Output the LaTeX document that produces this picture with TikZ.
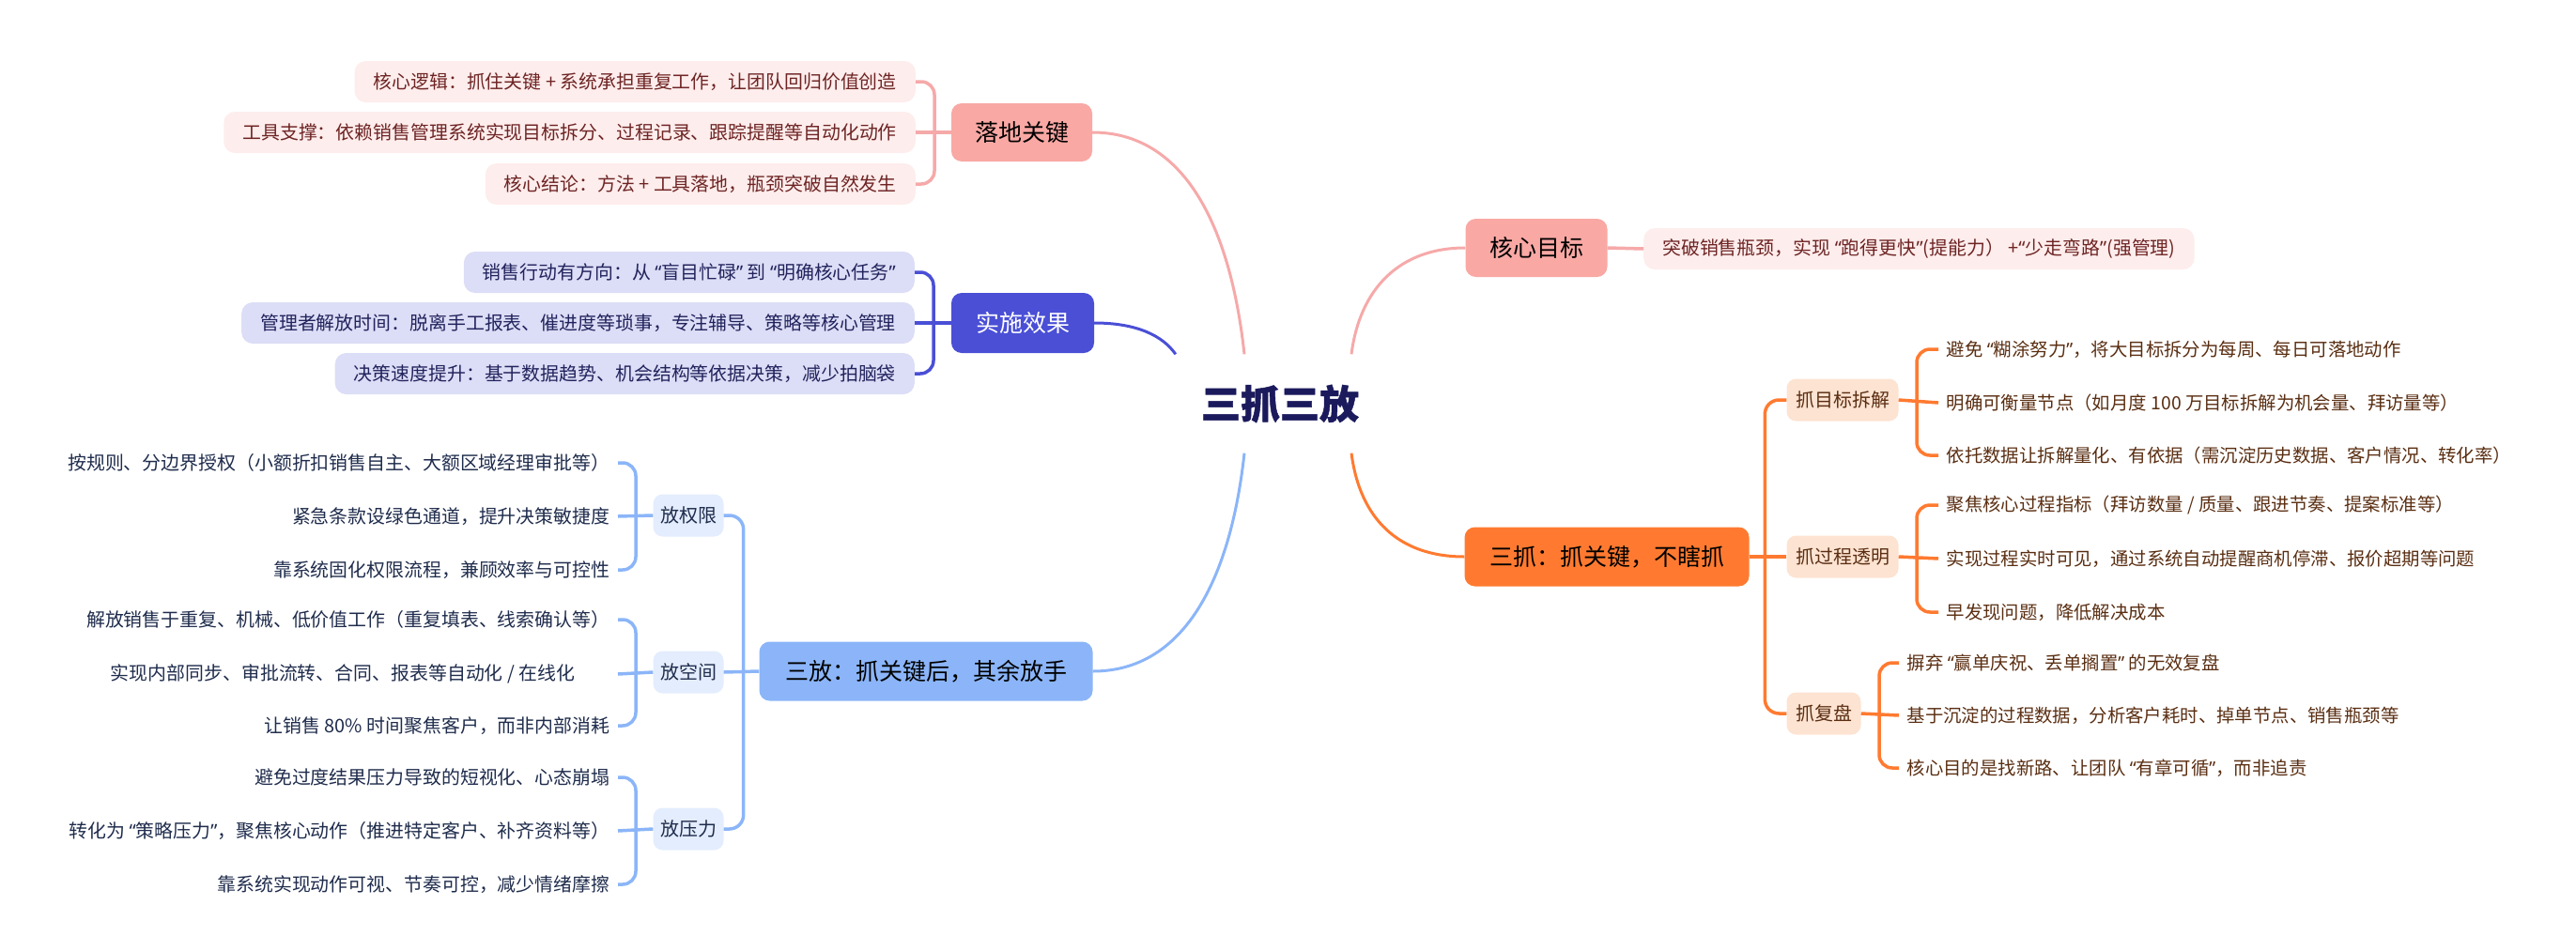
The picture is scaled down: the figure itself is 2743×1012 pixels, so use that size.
\documentclass[tikz,border=0pt]{standalone}
\usepackage{fontspec}
\setmainfont{Noto Sans CJK SC}
\newfontfamily\qfont{Noto Sans}
\newfontfamily\rootfont[BoldFeatures={FakeBold=1.2}]{Noto Sans CJK SC}
\usetikzlibrary{calc}
\definecolor{pinkM}{HTML}{F9A8A4}
\definecolor{pinkL}{HTML}{FDEDEC}
\definecolor{pinkT}{HTML}{6E2424}
\definecolor{pinkLine}{HTML}{F6A9A9}
\definecolor{navyM}{HTML}{4A4FD6}
\definecolor{lavL}{HTML}{DCDDF6}
\definecolor{lavT}{HTML}{22235C}
\definecolor{orM}{HTML}{FF7A30}
\definecolor{orS}{HTML}{FDE3D2}
\definecolor{orT}{HTML}{5A2E12}
\definecolor{blM}{HTML}{8BB5F8}
\definecolor{blS}{HTML}{E4EDFD}
\definecolor{blT}{HTML}{1F2C4C}
\definecolor{rootT}{HTML}{1B1A5C}
\newcommand\myqo{{\qfont “}}
\newcommand\myqc{{\qfont ”}}
\tikzset{
  mainbox/.style={rounded corners=11, minimum height=62, inner sep=0pt, text=black,
    font=\fontsize{25}{30}\selectfont},
  subbox/.style={rounded corners=10, minimum height=45, inner sep=0pt,
    font=\fontsize{20}{24}\selectfont},
  fillleaf/.style={rounded corners=12, minimum height=44, inner xsep=20pt, inner ysep=0pt,
    font=\fontsize{19.9}{24}\selectfont},
  textleaf/.style={inner xsep=8.5pt, inner ysep=4pt, font=\fontsize{19.9}{24}\selectfont},
  orleaf/.style={textleaf, text=orT, font=\fontsize{19.4}{24}\selectfont},
  pinklink/.style={draw=pinkLine, line width=3.5pt},
  navylink/.style={draw=navyM, line width=3.5pt},
  orlink/.style={draw=orM, line width=3.5pt},
  bllink/.style={draw=blM, line width=3.5pt},
  curvelink/.style={line width=3pt}
}
\begin{document}
\begin{tikzpicture}[x=1pt,y=-1pt]
\useasboundingbox (0,0) rectangle (2743,1012);

% root
\node[minimum width=222, minimum height=105, inner sep=0pt, text=rootT,
  font=\fontsize{42}{48}\rootfont\bfseries] (root) at (1363,430) {三抓三放};

% 落地关键
\node[mainbox, fill=pinkM, minimum width=150] (ldgj) at (1088,141) {落地关键};
\node[fillleaf, fill=pinkL, text=pinkT, anchor=east] (ld1) at (975,87) {核心逻辑：抓住关键 + 系统承担重复工作，让团队回归价值创造};
\node[fillleaf, fill=pinkL, text=pinkT, anchor=east] (ld2) at (975,141) {工具支撑：依赖销售管理系统实现目标拆分、过程记录、跟踪提醒等自动化动作};
\node[fillleaf, fill=pinkL, text=pinkT, anchor=east] (ld3) at (975,196) {核心结论：方法 + 工具落地，瓶颈突破自然发生};

% 核心目标
\node[mainbox, fill=pinkM, minimum width=151] (hxmb) at (1636,264) {核心目标};
\node[fillleaf, fill=pinkL, text=pinkT, anchor=west] (hx1) at (1750,265) {突破销售瓶颈，实现 \myqo 跑得更快\myqc(提能力） +\myqo 少走弯路\myqc(强管理)};

% 实施效果
\node[mainbox, fill=navyM, text=white, minimum width=152, minimum height=64] (ssxg) at (1089,344) {实施效果};
\node[fillleaf, fill=lavL, text=lavT, anchor=east] (ss1) at (974,290) {销售行动有方向：从 \myqo 盲目忙碌\myqc\ 到 \myqo 明确核心任务\myqc};
\node[fillleaf, fill=lavL, text=lavT, anchor=east] (ss2) at (974,344) {管理者解放时间：脱离手工报表、催进度等琐事，专注辅导、策略等核心管理};
\node[fillleaf, fill=lavL, text=lavT, anchor=east] (ss3) at (974,398) {决策速度提升：基于数据趋势、机会结构等依据决策，减少拍脑袋};

% 三抓
\node[mainbox, fill=orM, minimum width=303, minimum height=63] (sz) at (1711,593) {三抓：抓关键，不瞎抓};
\node[subbox, fill=orS, text=orT, minimum width=119] (zmb) at (1962,426) {抓目标拆解};
\node[subbox, fill=orS, text=orT, minimum width=119] (zgc) at (1962,593) {抓过程透明};
\node[subbox, fill=orS, text=orT, minimum width=79] (zfp) at (1942,760) {抓复盘};
\node[orleaf, anchor=west] (zm1) at (2064,372) {避免 \myqo 糊涂努力\myqc，将大目标拆分为每周、每日可落地动作};
\node[orleaf, anchor=west] (zm2) at (2064,429) {明确可衡量节点（如月度 100 万目标拆解为机会量、拜访量等）};
\node[orleaf, anchor=west] (zm3) at (2064,485) {依托数据让拆解量化、有依据（需沉淀历史数据、客户情况、转化率）};
\node[orleaf, anchor=west] (zg1) at (2064,538) {聚焦核心过程指标（拜访数量 / 质量、跟进节奏、提案标准等）};
\node[orleaf, anchor=west] (zg2) at (2064,595) {实现过程实时可见，通过系统自动提醒商机停滞、报价超期等问题};
\node[orleaf, anchor=west] (zg3) at (2064,652) {早发现问题，降低解决成本};
\node[orleaf, anchor=west] (zf1) at (2022,706) {摒弃 \myqo 赢单庆祝、丢单搁置\myqc\ 的无效复盘};
\node[orleaf, anchor=west] (zf2) at (2022,762) {基于沉淀的过程数据，分析客户耗时、掉单节点、销售瓶颈等};
\node[orleaf, anchor=west] (zf3) at (2022,818) {核心目的是找新路、让团队 \myqo 有章可循\myqc，而非追责};

% 三放
\node[mainbox, fill=blM, minimum width=355, minimum height=63] (sf) at (986,715) {三放：抓关键后，其余放手};
\node[subbox, fill=blS, text=blT, minimum width=75] (fqx) at (733,549) {放权限};
\node[subbox, fill=blS, text=blT, minimum width=75] (fkj) at (733,716) {放空间};
\node[subbox, fill=blS, text=blT, minimum width=75] (fyl) at (733,883) {放压力};
\node[textleaf, text=blT, anchor=east] (fq1) at (658,493) {按规则、分边界授权（小额折扣销售自主、大额区域经理审批等）};
\node[textleaf, text=blT, anchor=east] (fq2) at (658,550) {紧急条款设绿色通道，提升决策敏捷度};
\node[textleaf, text=blT, anchor=east] (fq3) at (658,607) {靠系统固化权限流程，兼顾效率与可控性};
\node[textleaf, text=blT, anchor=east] (fk1) at (658,660) {解放销售于重复、机械、低价值工作（重复填表、线索确认等）};
\node[textleaf, text=blT, anchor=east] (fk2) at (658,718) {实现内部同步、审批流转、合同、报表等自动化 / 在线化\hspace*{37pt}};
\node[textleaf, text=blT, anchor=east] (fk3) at (658,773) {让销售 80\% 时间聚焦客户，而非内部消耗};
\node[textleaf, text=blT, anchor=east] (fy1) at (658,828) {避免过度结果压力导致的短视化、心态崩塌};
\node[textleaf, text=blT, anchor=east] (fy2) at (658,885) {转化为 \myqo 策略压力\myqc，聚焦核心动作（推进特定客户、补齐资料等）};
\node[textleaf, text=blT, anchor=east] (fy3) at (658,942) {靠系统实现动作可视、节奏可控，减少情绪摩擦};

% ---- connectors ----
% pink left
\draw[pinklink, curvelink] (ldgj.east) .. controls +(97,0) and +(-15,-138) .. ($(root.north)+(-38,0)$);
\draw[pinklink, rounded corners=14] (ld1.east) -- ++(20,0) |- (ld3.east);
\draw[pinklink] (ld2.east) -- (ldgj.west);
% pink right
\draw[pinklink, curvelink] ($(root.north)+(76,0)$) .. controls +(9,-70) and +(-70,0) .. (hxmb.west);
\draw[pinklink] (hxmb.east) -- (hx1.west);
% navy
\draw[navylink, curvelink] (ssxg.east) .. controls +(45,0) and +(-14,-20) .. (root.north west);
\draw[navylink, rounded corners=14] (ss1.east) -- ++(20,0) |- (ss3.east);
\draw[navylink] (ss2.east) -- (ssxg.west);
% orange
\draw[orlink, curvelink] ($(root.south)+(76,0)$) .. controls +(9,70) and +(-70,0) .. (sz.west);
\draw[orlink] (sz.east) -- (zgc.west);
\draw[orlink, rounded corners=15] (zmb.west) -- ++(-23,0) |- (zfp.west);
\draw[orlink, rounded corners=14] (zm1.west) -- ++(-23,0) |- (zm3.west);
\draw[orlink] (zmb.east) -- (zm2.west);
\draw[orlink, rounded corners=14] (zg1.west) -- ++(-23,0) |- (zg3.west);
\draw[orlink] (zgc.east) -- (zg2.west);
\draw[orlink, rounded corners=14] (zf1.west) -- ++(-21,0) |- (zf3.west);
\draw[orlink] (zfp.east) -- (zf2.west);
% blue
\draw[bllink, curvelink] ($(root.south)+(-38,0)$) .. controls +(-15,137) and +(96,0) .. (sf.east);
\draw[bllink] (sf.west) -- (fkj.east);
\draw[bllink, rounded corners=15] (fqx.east) -- ++(21,0) |- (fyl.east);
\draw[bllink, rounded corners=14] (fq1.east) -- ++(19,0) |- (fq3.east);
\draw[bllink] (fqx.west) -- (fq2.east);
\draw[bllink, rounded corners=14] (fk1.east) -- ++(19,0) |- (fk3.east);
\draw[bllink] (fkj.west) -- (fk2.east);
\draw[bllink, rounded corners=14] (fy1.east) -- ++(19,0) |- (fy3.east);
\draw[bllink] (fyl.west) -- (fy2.east);
\end{tikzpicture}
\end{document}
